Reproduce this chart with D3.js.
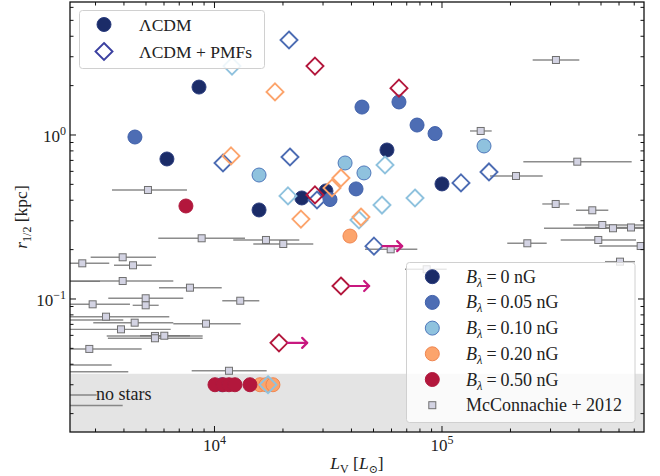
<!DOCTYPE html>
<html><head><meta charset="utf-8">
<script src="https://cdn.jsdelivr.net/npm/d3@7"></script>
<style>
body{margin:0;background:#fff}
svg{display:block}
text{font-family:"Liberation Serif","DejaVu Serif",serif;fill:#222}
</style>
</head><body>
<svg id="c" width="660" height="476"></svg>
<script>
// ---------- DATA ----------
// LCDM (filled circles), by B_lambda
const b000_L = [8550, 6180, 15700, 24200, 30900, 57300, 100000];
const b000_r = [1.96, 0.714, 0.349, 0.413, 0.456, 0.81, 0.503];
const b005_L = [4470, 44500, 64700, 77700, 93200, 41900, 32200, 10790];
const b005_r = [0.972, 1.48, 1.59, 1.15, 1.02, 0.469, 0.404, 0.03];
const b010_L = [15700, 37500, 45400, 153000];
const b010_r = [0.570, 0.675, 0.587, 0.857];
const b020_L = [39400, 15850, 16840, 18070];
const b020_r = [0.242, 0.03, 0.03, 0.03];
const b050_L = [7490, 10050, 10900, 11580, 12300, 14320];
const b050_r = [0.369, 0.03, 0.03, 0.03, 0.03, 0.03];
// LCDM + PMFs (open diamonds); lim = 1 -> lower limit in L_V
const p005_L = [21260, 10900, 21470, 28220, 121200, 160900, 50240];
const p005_r = [3.795, 0.675, 0.734, 0.4015, 0.51, 0.595, 0.21];
const p005_lim = [0, 0, 0, 0, 0, 0, 1];
const p010_L = [11940, 21040, 56170, 76100, 54480, 43170, 17190];
const p010_r = [2.63, 0.425, 0.656, 0.413, 0.374, 0.303, 0.03];
const p010_lim = [0, 0, 0, 0, 0, 0, 0];
const p020_L = [18450, 11820, 23990, 35970, 32850, 44050];
const p020_r = [1.83, 0.745, 0.307, 0.547, 0.475, 0.316];
const p020_lim = [0, 0, 0, 0, 0, 0];
const p050_L = [27650, 64710, 27650, 35970, 19210];
const p050_r = [2.63, 1.93, 0.431, 0.12, 0.054];
const p050_lim = [0, 0, 0, 1, 1];
// McConnachie 2012 observed dwarfs: L, r, L error low, L error high
const mc_L  = [8783, 16840, 20060, 3949, 2624, 4384, 3949, 1200, 7803, 4984, 12980, 4984, 2914, 3336, 4459, 9177, 3882, 5475, 5475, 6017, 2817, 11580, 5101, 1500, 1500, 1500, 1300, 1500,
               316900, 147960, 393300, 211500, 316100, 457800, 506500, 564500, 677300, 237200, 486400, 747000, 59500, 606000, 85640];
const mc_r  = [0.2345, 0.229, 0.2164, 0.1796, 0.165, 0.1605, 0.1287, 0.128, 0.1172, 0.101, 0.0976, 0.0915, 0.0928, 0.078, 0.0717, 0.0707, 0.0653, 0.0595, 0.0576, 0.0597, 0.0496, 0.0365, 0.462, 0.0744, 0.0396, 0.036, 0.026, 0.0224,
               2.866, 1.058, 0.6874, 0.5623, 0.3796, 0.3474, 0.2826, 0.2699, 0.2729, 0.2186, 0.229, 0.2104, 0.2009, 0.1689, 0.1518];
const mc_lo = [5662, 12090, 14810, 2856, 1900, 3617, 1800, 500, 5703, 3413, 10820, 4370, 2100, 1800, 2932, 6592, 1900, 3360, 3400, 4706, 2000, 7940, 3543, 600, 600, 600, 600, 600,
               250400, 132800, 227800, 162600, 276000, 388200, 377700, 280800, 425100, 193600, 332500, 491300, 45860, 520600, 68780];
const mc_hi = [13620, 23590, 27180, 5531, 3447, 5297, 6592, 3140, 10760, 7292, 15740, 5685, 4251, 6329, 6592, 13040, 6420, 8873, 8870, 7803, 4786, 16960, 7570, 3973, 3532, 4179, 3035, 3949,
               401400, 165400, 682000, 277100, 362700, 538300, 900000, 1000000, 1000000, 288600, 712500, 1000000, 77890, 705400, 104900];
// no-stars threshold
const noStarsR = 0.035;
// axes
const xDomain = [2317, 772600];
const yDomain = [0.01545, 6.47];
const xMajor = [1e4, 1e5];
const xMajorLabels = ["4", "5"];
const yMajor = [0.1, 1];
const yMajorLabels = ["\u22121", "0"];
const bLabels = ["0", "0.05", "0.10", "0.20", "0.50"];

// ---------- STYLE ----------
const fills   = ["#1b2c68", "#4d6db4", "#8fc2de", "#fca46c", "#b3173c"];
const edges   = ["#2a3c7e", "#3f60aa", "#4f78bb", "#f08650", "#b01a3e"];
const dStroke = ["#1b2c68", "#4c6cb3", "#8fc2de", "#fca46c", "#b3173c"];
const arrowCol = "#c8187f";

const L = 70, R = 644, T = 2, B = 432;
const svg = d3.select("#c");
const x = d3.scaleLog().domain(xDomain).range([L, R]);
const y = d3.scaleLog().domain(yDomain).range([B, T]);

svg.append("defs").append("clipPath").attr("id", "clip")
  .append("rect").attr("x", L).attr("y", T).attr("width", R - L).attr("height", B - T);

const plot = svg.append("g").attr("clip-path", "url(#clip)");

// no stars band
plot.append("rect").attr("x", L).attr("width", R - L)
  .attr("y", y(noStarsR)).attr("height", B - y(noStarsR)).attr("fill", "#e4e4e4");

// McConnachie
const mc = mc_L.map((v, i) => ({L: v, r: mc_r[i], lo: mc_lo[i], hi: mc_hi[i]}));
plot.append("g").selectAll("line").data(mc).join("line")
  .attr("x1", d => x(d.lo)).attr("x2", d => x(d.hi))
  .attr("y1", d => y(d.r)).attr("y2", d => y(d.r))
  .attr("stroke", "#6f6f6f").attr("stroke-opacity", 0.8).attr("stroke-width", 1.4);
plot.append("g").selectAll("rect").data(mc).join("rect")
  .attr("x", d => x(d.L) - 3.5).attr("y", d => y(d.r) - 3.5)
  .attr("width", 7).attr("height", 7)
  .attr("fill", "#d3d3e3").attr("stroke", "#707070").attr("stroke-width", 1);

// "no stars" label
svg.append("text").attr("x", 96).attr("y", 400).attr("font-size", 18).text("no stars");

// circles
const circSeries = [[b000_L, b000_r], [b005_L, b005_r], [b010_L, b010_r], [b020_L, b020_r], [b050_L, b050_r]];
const diaSeries = [null, [p005_L, p005_r, p005_lim], [p010_L, p010_r, p010_lim], [p020_L, p020_r, p020_lim], [p050_L, p050_r, p050_lim]];
const dpath = s => `M0,${-s}L${s},0L0,${s}L${-s},0Z`;

circSeries.forEach((s, k) => {
  const data = s[0].map((v, i) => ({L: v, r: s[1][i]}));
  plot.append("g").selectAll("circle").data(data).join("circle")
    .attr("cx", d => x(d.L)).attr("cy", d => y(d.r)).attr("r", 7)
    .attr("fill", fills[k]).attr("stroke", edges[k]).attr("stroke-width", 1);
});
const arrows = [];
diaSeries.forEach((s, k) => {
  if (!s) return;
  const data = s[0].map((v, i) => ({L: v, r: s[1][i], lim: s[2][i]}));
  plot.append("g").selectAll("path").data(data).join("path")
    .attr("transform", d => `translate(${x(d.L)},${y(d.r)})`)
    .attr("d", dpath(8.5)).attr("fill", "none")
    .attr("stroke", dStroke[k]).attr("stroke-width", 1.9);
  data.filter(d => d.lim).forEach(d => arrows.push(d));
});
// lower-limit arrows
const ag = plot.append("g").attr("stroke", arrowCol).attr("fill", "none")
  .attr("stroke-width", 2.2).attr("stroke-linecap", "round").attr("stroke-linejoin", "round");
arrows.forEach(d => {
  const x0 = x(d.L) + 8.5, x1 = x(d.L * 1.33), yy = y(d.r);
  ag.append("line").attr("x1", x0).attr("x2", x1).attr("y1", yy).attr("y2", yy);
  ag.append("path").attr("d", `M${x1 - 5},${yy - 5}L${x1},${yy}L${x1 - 5},${yy + 5}`);
});

// ---------- AXES ----------
const ax = svg.append("g").attr("stroke", "#111").attr("stroke-width", 1);
const xt = x.ticks().filter(v => v > xDomain[0] && v < xDomain[1]);
const yt = y.ticks().filter(v => v > yDomain[0] && v < yDomain[1]);
const isMajor = v => Math.abs(Math.log10(v) - Math.round(Math.log10(v))) < 1e-6;
xt.forEach(v => {
  const len = isMajor(v) ? 6 : 3.5, px = x(v);
  ax.append("line").attr("x1", px).attr("x2", px).attr("y1", B).attr("y2", B - len);
  ax.append("line").attr("x1", px).attr("x2", px).attr("y1", T).attr("y2", T + len);
});
yt.forEach(v => {
  const len = isMajor(v) ? 6 : 3.5, py = y(v);
  ax.append("line").attr("y1", py).attr("y2", py).attr("x1", L).attr("x2", L + len);
  ax.append("line").attr("y1", py).attr("y2", py).attr("x1", R).attr("x2", R - len);
});
svg.append("rect").attr("x", L).attr("y", T).attr("width", R - L).attr("height", B - T)
  .attr("fill", "none").attr("stroke", "#111").attr("stroke-width", 1.3);

xMajor.forEach((v, i) => {
  const t = svg.append("text").attr("x", x(v)).attr("y", 451).attr("text-anchor", "middle").attr("font-size", 17);
  t.append("tspan").text("10");
  t.append("tspan").attr("dy", -7).attr("font-size", 12).text(xMajorLabels[i]);
});
yMajor.forEach((v, i) => {
  const t = svg.append("text").attr("x", 66).attr("y", y(v) + 7).attr("text-anchor", "end").attr("font-size", 17);
  t.append("tspan").text("10");
  t.append("tspan").attr("dy", -7).attr("font-size", 12).text(yMajorLabels[i]);
});

// axis titles
const xl = svg.append("text").attr("x", 357).attr("y", 469).attr("text-anchor", "middle").attr("font-size", 17.5);
xl.append("tspan").attr("font-style", "italic").text("L");
xl.append("tspan").attr("dy", 4).attr("font-size", 12).text("V");
xl.append("tspan").attr("dy", -4).text(" [");
xl.append("tspan").attr("font-style", "italic").text("L");
xl.append("tspan").attr("dy", 4).attr("font-size", 11).text("\u2299");
xl.append("tspan").attr("dy", -4).text("]");

const yl = svg.append("text").attr("transform", "translate(27,217) rotate(-90)").attr("text-anchor", "middle").attr("font-size", 17.5);
yl.append("tspan").attr("font-style", "italic").text("r");
yl.append("tspan").attr("dy", 4).attr("font-size", 12).text("1/2");
yl.append("tspan").attr("dy", -4).text(" [kpc]");

// ---------- LEGENDS ----------
const lg1 = svg.append("g");
lg1.append("rect").attr("x", 79.5).attr("y", 10.5).attr("width", 185).attr("height", 58).attr("rx", 3)
  .attr("fill", "#fff").attr("fill-opacity", 0.85).attr("stroke", "#d0d0d0");
lg1.append("circle").attr("cx", 104).attr("cy", 24.5).attr("r", 7).attr("fill", fills[0]).attr("stroke", edges[0]);
lg1.append("path").attr("transform", "translate(104,51.5)").attr("d", dpath(8.5))
  .attr("fill", "none").attr("stroke", "#3b40a0").attr("stroke-width", 1.9);
lg1.append("text").attr("x", 139).attr("y", 31).attr("font-size", 17.5).text("\u039BCDM");
lg1.append("text").attr("x", 139).attr("y", 58).attr("font-size", 17.5).text("\u039BCDM + PMFs");

const lg2 = svg.append("g");
lg2.append("rect").attr("x", 406.5).attr("y", 262.5).attr("width", 228.5).attr("height", 160).attr("rx", 3)
  .attr("fill", "#fff").attr("fill-opacity", 0.8).attr("stroke", "#d0d0d0");
bLabels.forEach((b, i) => {
  const yy = 276.7 + i * 25.7;
  lg2.append("circle").attr("cx", 432.3).attr("cy", yy).attr("r", 7).attr("fill", fills[i]).attr("stroke", edges[i]);
  const t = lg2.append("text").attr("x", 466).attr("y", yy + 6).attr("font-size", 18);
  t.append("tspan").attr("font-style", "italic").text("B");
  t.append("tspan").attr("dy", 4).attr("font-size", 12.5).attr("font-style", "italic").text("\u03BB");
  t.append("tspan").attr("dy", -4).attr("dx", 4).text("=");
  t.append("tspan").attr("dx", 4).text(b + " nG");
});
const yMc = 276.7 + 5 * 25.7;
lg2.append("rect").attr("x", 432.3 - 3.5).attr("y", yMc - 3.5).attr("width", 7).attr("height", 7)
  .attr("fill", "#d3d3e3").attr("stroke", "#707070");
lg2.append("text").attr("x", 466).attr("y", yMc + 6).attr("font-size", 18).text("McConnachie + 2012");
</script>
</body></html>
